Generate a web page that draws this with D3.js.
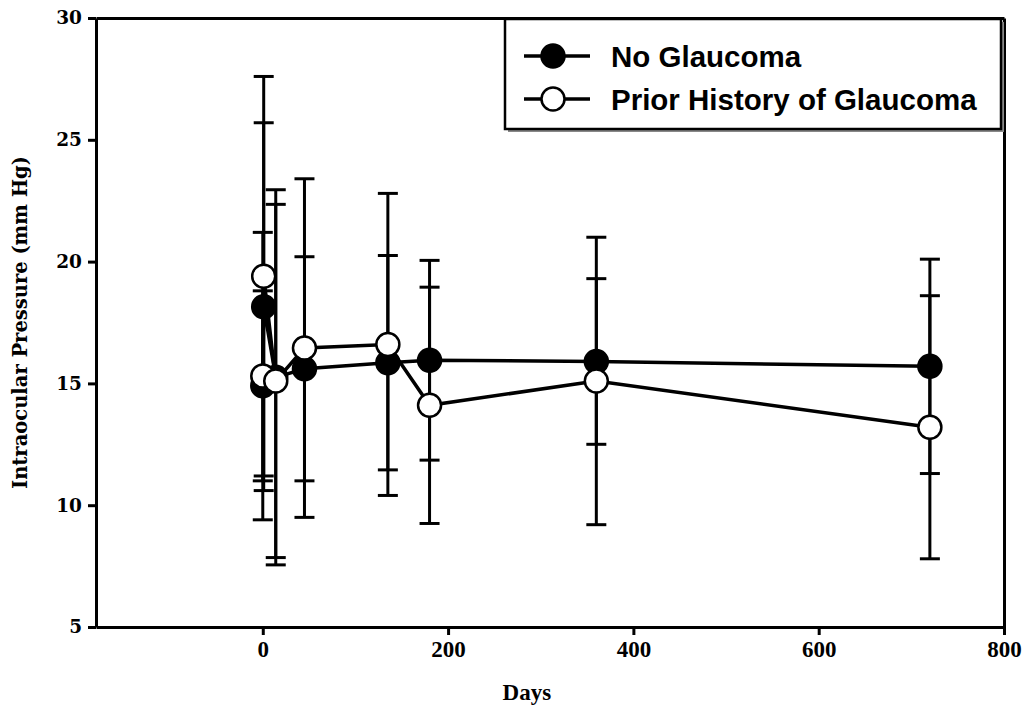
<!DOCTYPE html>
<html>
<head>
<meta charset="utf-8">
<script src="https://cdn.jsdelivr.net/npm/d3@7"></script>
<style>
  body { margin: 0; background: #fff; }
  .axis path, .axis line { stroke: #000; stroke-width: 3; }
  .axis text { fill: #000; font-weight: bold; }
  .y.axis text { font-family: "DejaVu Serif"; font-size: 18.5px; }
  .x.axis text { font-family: "Liberation Serif"; font-size: 23px; }
</style>
</head>
<body>
<div id="root"></div>
<script>
// days after surgery (0 = pre-op, 1 = first post-op day)
const days = [0, 1, 14, 45, 135, 180, 360, 720];

const noGlaucomaMean = [14.9, 18.15, 15.25, 15.6, 15.85, 15.95, 15.9, 15.7];
const noGlaucomaSD   = [3.9, 7.55, 7.7, 4.6, 4.4, 4.1, 3.4, 4.4];

const priorMean = [15.3, 19.4, 15.1, 16.45, 16.6, 14.1, 15.1, 13.2];
const priorSD   = [5.9, 8.2, 7.25, 6.95, 6.2, 4.85, 5.9, 5.4];

const xTicks = [0, 200, 400, 600, 800];
const yTicks = [5, 10, 15, 20, 25, 30];

const seriesNames = ["No Glaucoma", "Prior History of Glaucoma"];

const margin = { top: 18, right: 19, bottom: 81, left: 96 };
const outerWidth = 1023;
const outerHeight = 708;
const width = outerWidth - margin.left - margin.right;
const height = outerHeight - margin.top - margin.bottom;

let scaleX = d3.scaleLinear().domain([-180, 800]).range([0, width]);
let scaleY = d3.scaleLinear().domain([5, 30]).range([height, 0]);

let svg = d3.select("#root")
            .append("svg")
            .attr("width", outerWidth)
            .attr("height", outerHeight);

let chart = svg.append("g")
               .attr("transform", `translate(${margin.left}, ${margin.top})`);

let series = [
    { name: seriesNames[0], fill: "#000", values: days.map((d, i) => ({ day: d, mean: noGlaucomaMean[i], sd: noGlaucomaSD[i] })) },
    { name: seriesNames[1], fill: "#fff", values: days.map((d, i) => ({ day: d, mean: priorMean[i], sd: priorSD[i] })) }
];

// error bars
series.forEach(s => {
    let g = chart.append("g").attr("class", "errbars");
    let bar = g.selectAll(".bar").data(s.values).enter().append("g");
    bar.append("line")
        .attr("x1", d => scaleX(d.day)).attr("x2", d => scaleX(d.day))
        .attr("y1", d => scaleY(d.mean - d.sd)).attr("y2", d => scaleY(d.mean + d.sd))
        .attr("stroke", "#000").attr("stroke-width", 3);
    [-1, 1].forEach(sign => {
        bar.append("line")
            .attr("x1", d => scaleX(d.day) - 10).attr("x2", d => scaleX(d.day) + 10)
            .attr("y1", d => scaleY(d.mean + sign * d.sd)).attr("y2", d => scaleY(d.mean + sign * d.sd))
            .attr("stroke", "#000").attr("stroke-width", 3);
    });
});

let line = d3.line().x(d => scaleX(d.day)).y(d => scaleY(d.mean));

series.forEach(s => {
    chart.append("path")
        .datum(s.values)
        .attr("d", line)
        .attr("fill", "none")
        .attr("stroke", "#000")
        .attr("stroke-width", 3.5);
});

series.forEach(s => {
    chart.append("g").selectAll("circle")
        .data(s.values)
        .enter().append("circle")
        .attr("cx", d => scaleX(d.day))
        .attr("cy", d => scaleY(d.mean))
        .attr("r", 11.5)
        .attr("fill", s.fill)
        .attr("stroke", "#000")
        .attr("stroke-width", 2.5);
});

// axes and frame
chart.append("g")
    .attr("class", "y axis")
    .call(d3.axisLeft(scaleY).tickValues(yTicks).tickSize(8).tickSizeOuter(0).tickPadding(6));

chart.append("g")
    .attr("class", "x axis")
    .attr("transform", `translate(0, ${height})`)
    .call(d3.axisBottom(scaleX).tickValues(xTicks).tickSize(8).tickSizeOuter(0).tickPadding(6));

chart.append("g")
    .attr("class", "axis")
    .call(d3.axisTop(scaleX).tickValues([]).tickSizeOuter(0));

chart.append("g")
    .attr("class", "axis")
    .attr("transform", `translate(${width}, 0)`)
    .call(d3.axisRight(scaleY).tickValues([]).tickSizeOuter(0));

// axis titles
svg.append("text")
    .attr("transform", `translate(27, ${margin.top + height / 2}) rotate(-90)`)
    .attr("text-anchor", "middle")
    .attr("font-family", "DejaVu Serif")
    .attr("font-weight", "bold")
    .attr("font-size", 19.5)
    .text("Intraocular Pressure (mm Hg)");

svg.append("text")
    .attr("x", margin.left + scaleX(285))
    .attr("y", 700)
    .attr("text-anchor", "middle")
    .attr("font-family", "Liberation Serif")
    .attr("font-weight", "bold")
    .attr("font-size", 23)
    .text("Days");

// legend
let legend = svg.append("g").attr("transform", "translate(505, 19)");
legend.append("rect")
    .attr("x", 3).attr("y", 3).attr("width", 496).attr("height", 110)
    .attr("fill", "#888");
legend.append("rect")
    .attr("width", 496).attr("height", 110)
    .attr("fill", "#fff").attr("stroke", "#000").attr("stroke-width", 2.5);

let item = legend.selectAll(".item")
    .data(series)
    .enter().append("g")
    .attr("transform", (d, i) => `translate(0, ${37 + i * 43})`);
item.append("line")
    .attr("x1", 19).attr("x2", 85)
    .attr("stroke", "#000").attr("stroke-width", 3.5);
item.append("circle")
    .attr("cx", 48).attr("r", 11.5)
    .attr("fill", d => d.fill).attr("stroke", "#000").attr("stroke-width", 2.5);
item.append("text")
    .attr("x", 106).attr("y", 11)
    .attr("font-family", "Liberation Sans")
    .attr("font-weight", "bold")
    .attr("font-size", 29.5)
    .text(d => d.name);
</script>
</body>
</html>
